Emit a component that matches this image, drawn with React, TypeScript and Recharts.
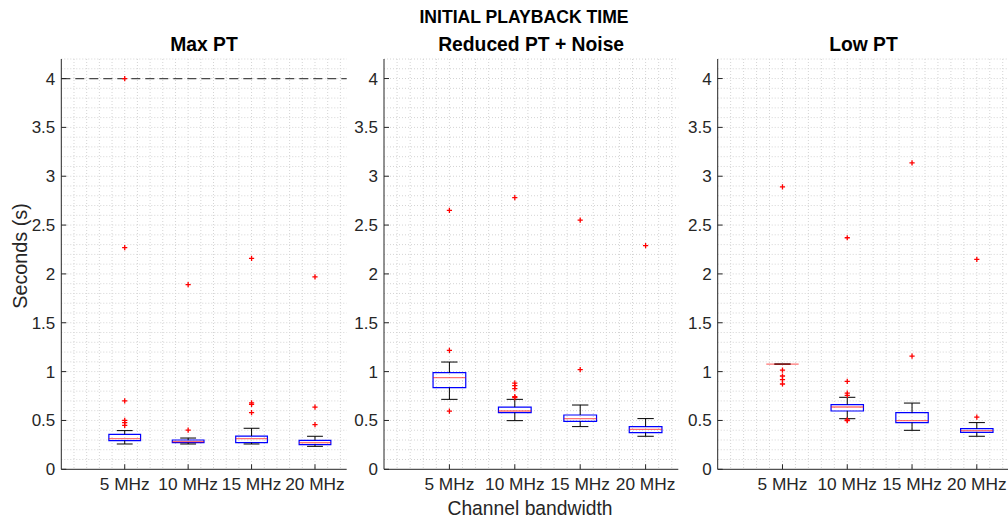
import React from 'react';
import {
  ComposedChart,
  XAxis,
  YAxis,
  CartesianGrid,
  Scatter,
  ReferenceArea,
  ReferenceLine,
} from 'recharts';

// ---------- data ----------
const categories = ['5 MHz', '10 MHz', '15 MHz', '20 MHz'];
const xTickValues = [1, 2, 3, 4];
const yTickValues = [0, 0.5, 1, 1.5, 2, 2.5, 3, 3.5, 4];
const yTickLabels = ['0', '0.5', '1', '1.5', '2', '2.5', '3', '3.5', '4'];
const panelTitles = ['Max PT', 'Reduced PT + Noise', 'Low PT'];
const mainTitle = 'INITIAL PLAYBACK TIME';
const xLabel = 'Channel bandwidth';
const yLabel = 'Seconds (s)';
const maxPlaybackLimit = 4;

// Max PT
const maxQ1 = [0.293, 0.273, 0.273, 0.253];
const maxMedian = [0.314, 0.283, 0.314, 0.273];
const maxQ3 = [0.358, 0.3, 0.34, 0.297];
const maxLower = [0.259, 0.259, 0.259, 0.235];
const maxUpper = [0.396, 0.32, 0.42, 0.338];
const maxOutliers = [
  [4.0, 2.27, 0.7, 0.5, 0.478, 0.45],
  [1.89, 0.4],
  [2.16, 0.68, 0.665, 0.58],
  [1.97, 0.637, 0.457],
];

// Reduced PT + Noise
const redQ1 = [0.836, 0.58, 0.491, 0.375];
const redMedian = [0.938, 0.597, 0.519, 0.409];
const redQ3 = [0.989, 0.637, 0.556, 0.437];
const redLower = [0.716, 0.498, 0.437, 0.338];
const redUpper = [1.098, 0.716, 0.658, 0.519];
const redOutliers = [
  [2.65, 1.217, 0.596],
  [2.78, 0.883, 0.856, 0.826, 0.744, 0.733],
  [2.55, 1.02],
  [2.29],
];

// Low PT
const lowQ1 = [1.077, 0.597, 0.478, 0.378];
const lowMedian = [1.077, 0.637, 0.498, 0.396];
const lowQ3 = [1.077, 0.662, 0.58, 0.416];
const lowLower = [1.077, 0.518, 0.399, 0.338];
const lowUpper = [1.077, 0.737, 0.678, 0.478];
const lowOutliers = [
  [2.89, 1.016, 0.955, 0.918, 0.873],
  [2.37, 0.9, 0.78, 0.757, 0.505, 0.498],
  [3.137, 1.159],
  [2.148, 0.535],
];

// grid positions (minor grid)
const xGridValues = Array.from({ length: 22 }, (_, i) => +((i + 1) * 0.2).toFixed(2));
const yGridValues = Array.from({ length: 42 }, (_, i) => +((i + 1) * 0.1).toFixed(2));

// ---------- style ----------
const FONT = '"Liberation Sans", Arial, Helvetica, sans-serif';
const AXIS = '#262626';
const W = 1012;
const H = 518;
const PLOT_TOP = 59;
const PLOT_BOTTOM = 469.3;

const panels = [
  { left: 61.3, right: 346.7, q1: maxQ1, med: maxMedian, q3: maxQ3, lo: maxLower, hi: maxUpper, out: maxOutliers, limit: true },
  { left: 384, right: 678.3, q1: redQ1, med: redMedian, q3: redQ3, lo: redLower, hi: redUpper, out: redOutliers, limit: false },
  { left: 717.7, right: 1009.2, q1: lowQ1, med: lowMedian, q3: lowQ3, lo: lowLower, hi: lowUpper, out: lowOutliers, limit: false },
];

const PlusShape = (props: any) => {
  const { cx, cy } = props;
  if (cx == null || cy == null) return null;
  const a = 2.6;
  return (
    <path
      d={`M${cx - a},${cy}H${cx + a}M${cx},${cy - a}V${cy + a}`}
      stroke="#ff0000"
      strokeWidth={1.3}
      fill="none"
    />
  );
};

function Panel({ p }: { p: any }) {
  const pts = p.out.flatMap((arr: number[], i: number) =>
    arr.map((y) => ({ x: xTickValues[i], y }))
  );
  const bw = 0.25;
  const cw = 0.125;
  return (
    <div style={{ position: 'absolute', left: 0, top: 0 }}>
      <ComposedChart
        width={W}
        height={H}
        margin={{ top: PLOT_TOP, right: W - p.right, bottom: 0, left: p.left - 50 }}
      >
        <CartesianGrid
          stroke="#d4d4d4"
          strokeDasharray="1 2"
          horizontalValues={yGridValues}
          verticalValues={xGridValues}
        />
        <XAxis
          dataKey="x"
          type="number"
          domain={[0, 4.5]}
          ticks={xTickValues}
          interval={0}
          allowDataOverflow
          height={H - PLOT_BOTTOM}
          tickSize={-5}
          tickMargin={13}
          stroke={AXIS}
          tickFormatter={(v: number) => categories[v - 1] ?? ''}
          tick={{ fill: AXIS, fontSize: 17.3, fontFamily: FONT }}
        />
        <XAxis
          xAxisId="top"
          orientation="top"
          type="number"
          domain={[0, 4.5]}
          ticks={xTickValues}
          interval={0}
          height={0}
          tickSize={-5}
          tick={false}
          stroke={AXIS}
        />
        <YAxis
          dataKey="y"
          type="number"
          domain={[0, 4.2]}
          ticks={yTickValues}
          interval={0}
          allowDataOverflow
          width={50}
          tickSize={-5}
          tickMargin={11}
          stroke={AXIS}
          tickFormatter={(v: number) => {
            const i = yTickValues.indexOf(v);
            return i >= 0 ? yTickLabels[i] : '';
          }}
          tick={{ fill: AXIS, fontSize: 17, fontFamily: FONT }}
        />
        <YAxis
          yAxisId="right"
          orientation="right"
          type="number"
          domain={[0, 4.2]}
          ticks={yTickValues}
          interval={0}
          width={0}
          tickSize={-5}
          tick={false}
          stroke={AXIS}
        />
        {p.limit && (
          <ReferenceLine
            y={maxPlaybackLimit}
            stroke="#4a4a4a"
            strokeWidth={1.3}
            strokeDasharray="9 5"
          />
        )}
        {xTickValues.map((x, i) => (
          <ReferenceLine
            key={`wu${i}`}
            segment={[{ x, y: p.q3[i] }, { x, y: p.hi[i] }]}
            stroke="#000"
            strokeWidth={1}
          />
        ))}
        {xTickValues.map((x, i) => (
          <ReferenceLine
            key={`wl${i}`}
            segment={[{ x, y: p.lo[i] }, { x, y: p.q1[i] }]}
            stroke="#000"
            strokeWidth={1}
          />
        ))}
        {xTickValues.map((x, i) => (
          <ReferenceLine
            key={`cu${i}`}
            segment={[{ x: x - cw, y: p.hi[i] }, { x: x + cw, y: p.hi[i] }]}
            stroke="#000"
            strokeWidth={1}
          />
        ))}
        {xTickValues.map((x, i) => (
          <ReferenceLine
            key={`cl${i}`}
            segment={[{ x: x - cw, y: p.lo[i] }, { x: x + cw, y: p.lo[i] }]}
            stroke="#000"
            strokeWidth={1}
          />
        ))}
        {xTickValues.map((x, i) => (
          <ReferenceArea
            key={`b${i}`}
            x1={x - bw}
            x2={x + bw}
            y1={p.q1[i]}
            y2={p.q3[i]}
            fill="#ffffff"
            fillOpacity={0}
            stroke="#0000ff"
            strokeWidth={1.2}
            strokeOpacity={1}
          />
        ))}
        {xTickValues.map((x, i) => (
          <ReferenceLine
            key={`m${i}`}
            segment={[{ x: x - bw, y: p.med[i] }, { x: x + bw, y: p.med[i] }]}
            stroke="#ff0000"
            strokeOpacity={0.55}
            strokeWidth={1.4}
          />
        ))}
        <Scatter data={pts} shape={PlusShape} isAnimationActive={false} />
      </ComposedChart>
    </div>
  );
}

export default function App() {
  return (
    <div
      style={{
        position: 'absolute',
        left: 0,
        top: 0,
        width: 1008,
        height: 518,
        overflow: 'hidden',
        background: '#ffffff',
      }}
    >
      {panels.map((p, i) => (
        <Panel key={i} p={p} />
      ))}
      <svg
        width={1008}
        height={518}
        style={{ position: 'absolute', left: 0, top: 0, pointerEvents: 'none' }}
      >
        <text x={524} y={17} textAnchor="middle" dominantBaseline="central" fontFamily={FONT} fontWeight="bold" fontSize={17.6} fill="#000">
          {mainTitle}
        </text>
        {panels.map((p, i) => (
          <text key={i} x={(p.left + p.right) / 2} y={44} textAnchor="middle" dominantBaseline="central" fontFamily={FONT} fontWeight="bold" fontSize={19.3} fill="#000">
            {panelTitles[i]}
          </text>
        ))}
        <text x={20} y={256} textAnchor="middle" dominantBaseline="central" fontFamily={FONT} fontSize={19.8} fill={AXIS} transform="rotate(-90 20 256)">
          {yLabel}
        </text>
        <text x={530} y={508} textAnchor="middle" dominantBaseline="central" fontFamily={FONT} fontSize={19.3} fill={AXIS}>
          {xLabel}
        </text>
      </svg>
    </div>
  );
}
